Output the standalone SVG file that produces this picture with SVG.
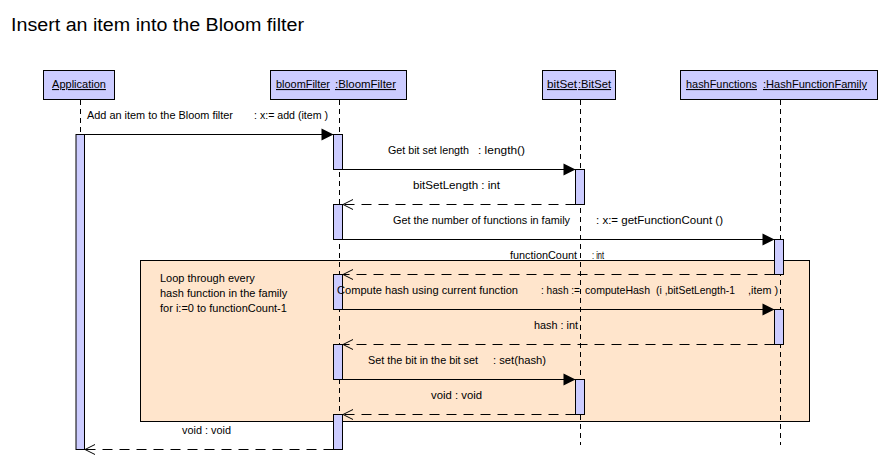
<svg xmlns="http://www.w3.org/2000/svg" width="890" height="460" viewBox="0 0 890 460">
<style>
text{font-family:"Liberation Sans",Arial,sans-serif;font-size:11px;fill:#000}
.title{font-size:18px}
.u{text-decoration:underline}
.box{fill:#CCCCFF;stroke:#000;stroke-width:1}
.life{stroke:#000;stroke-width:1;stroke-dasharray:5 4;fill:none}
.bar{fill:#CCCCFF;stroke:#000;stroke-width:1}
.call{stroke:#000;stroke-width:1;fill:none;marker-end:url(#filled)}
.ret{stroke:#000;stroke-width:1;fill:none;stroke-dasharray:10 7;marker-end:url(#open)}
.frame{fill:#FFE5CC;stroke:#000;stroke-width:1}
</style>
<defs>
<marker id="filled" markerUnits="userSpaceOnUse" markerWidth="12" markerHeight="12" refX="12" refY="6" orient="auto" overflow="visible">
<path d="M0,0 L12,6 L0,12 z" fill="#000" stroke="none"/>
</marker>
<marker id="open" markerUnits="userSpaceOnUse" markerWidth="10" markerHeight="10" refX="10" refY="5" orient="auto" overflow="visible">
<path d="M0,0 L10,5 L0,10" fill="none" stroke="#000" stroke-width="1"/>
</marker>
</defs>
<rect width="890" height="460" fill="#fff"/>
<text class="title" x="11" y="31" textLength="293" lengthAdjust="spacingAndGlyphs">Insert an item into the Bloom filter</text>

<g id="loop">
<rect class="frame" x="140.5" y="260.5" width="669" height="161"/>
<text x="160" y="282">Loop through every</text>
<text x="160" y="297">hash function in the family</text>
<text x="160" y="312">for i:=0 to functionCount-1</text>
</g>

<g id="application">
<rect class="box" x="43.5" y="70.5" width="71" height="29"/>
<text class="u" x="79" y="88" text-anchor="middle">Application</text>
<line class="life" x1="80.5" y1="100" x2="80.5" y2="445"/>
<rect class="bar" x="76" y="134.5" width="8.5" height="315"/>
</g>

<g id="bloomFilter">
<rect class="box" x="270.5" y="70.5" width="136" height="29"/>
<text class="u" x="276" y="88" textLength="54" lengthAdjust="spacingAndGlyphs">bloomFilter</text>
<text class="u" x="335" y="88" textLength="61" lengthAdjust="spacingAndGlyphs">:BloomFilter</text>
<line class="life" x1="339.5" y1="100" x2="339.5" y2="445"/>
<rect class="bar" x="333.5" y="134.5" width="9" height="35"/>
<rect class="bar" x="333.5" y="204.5" width="9" height="35"/>
<rect class="bar" x="333.5" y="274.5" width="9" height="35"/>
<rect class="bar" x="333.5" y="344.5" width="9" height="35"/>
<rect class="bar" x="333.5" y="414.5" width="9" height="35"/>
</g>

<g id="bitSet">
<rect class="box" x="542.5" y="70.5" width="73" height="29"/>
<text class="u" x="547" y="88" textLength="30" lengthAdjust="spacingAndGlyphs">bitSet</text>
<text class="u" x="578" y="88" textLength="33" lengthAdjust="spacingAndGlyphs">:BitSet</text>
<line class="life" x1="580.5" y1="100" x2="580.5" y2="445"/>
<rect class="bar" x="575.5" y="169.5" width="9" height="35"/>
<rect class="bar" x="575.5" y="379.5" width="9" height="35"/>
</g>

<g id="hashFunctions">
<rect class="box" x="680.5" y="70.5" width="197" height="29"/>
<text class="u" x="686" y="88" textLength="71" lengthAdjust="spacingAndGlyphs">hashFunctions</text>
<text class="u" x="763" y="88" textLength="104" lengthAdjust="spacingAndGlyphs">:HashFunctionFamily</text>
<line class="life" x1="780.5" y1="100" x2="780.5" y2="445"/>
<rect class="bar" x="774.5" y="239.5" width="9" height="35"/>
<rect class="bar" x="774.5" y="309.5" width="9" height="35"/>
</g>

<g id="connectors">
<line class="call" x1="84.5" y1="134.5" x2="333.5" y2="134.5"/>
<text x="87" y="119" textLength="146" lengthAdjust="spacingAndGlyphs">Add an item to the Bloom filter</text>
<text x="254" y="119" textLength="74" lengthAdjust="spacingAndGlyphs">: x:= add (item )</text>

<line class="call" x1="342.5" y1="169.5" x2="575.5" y2="169.5"/>
<text x="388" y="154" textLength="81" lengthAdjust="spacingAndGlyphs">Get bit set length</text>
<text x="478" y="154" textLength="47" lengthAdjust="spacingAndGlyphs">: length()</text>

<line class="ret" x1="575.5" y1="204.5" x2="343" y2="204.5"/>
<text x="413" y="189" textLength="87" lengthAdjust="spacingAndGlyphs">bitSetLength  : int</text>

<line class="call" x1="342.5" y1="239.5" x2="774.5" y2="239.5"/>
<text x="393" y="224" textLength="177" lengthAdjust="spacingAndGlyphs">Get the number of functions in family</text>
<text x="596" y="224" textLength="127" lengthAdjust="spacingAndGlyphs">: x:= getFunctionCount ()</text>

<line class="ret" x1="774.5" y1="274.5" x2="343" y2="274.5"/>
<text x="510" y="259" textLength="67" lengthAdjust="spacingAndGlyphs">functionCount</text>
<text x="592" y="259" textLength="12" lengthAdjust="spacingAndGlyphs">: int</text>

<line class="call" x1="342.5" y1="309.5" x2="774.5" y2="309.5"/>
<text x="337" y="294" textLength="181" lengthAdjust="spacingAndGlyphs">Compute hash using current function</text>
<text x="541" y="294" textLength="39" lengthAdjust="spacingAndGlyphs">: hash :=</text>
<text x="585" y="294" textLength="65" lengthAdjust="spacingAndGlyphs">computeHash</text>
<text x="656" y="294" textLength="79" lengthAdjust="spacingAndGlyphs">(i ,bitSetLength-1</text>
<text x="748" y="294" textLength="30" lengthAdjust="spacingAndGlyphs">,item )</text>

<line class="ret" x1="774.5" y1="344.5" x2="343" y2="344.5"/>
<text x="534" y="329" textLength="44" lengthAdjust="spacingAndGlyphs">hash : int</text>

<line class="call" x1="342.5" y1="379.5" x2="575.5" y2="379.5"/>
<text x="368" y="364" textLength="110" lengthAdjust="spacingAndGlyphs">Set the bit in the bit set</text>
<text x="493" y="364" textLength="53" lengthAdjust="spacingAndGlyphs">: set(hash)</text>

<line class="ret" x1="575.5" y1="414.5" x2="343" y2="414.5"/>
<text x="431" y="399" textLength="51" lengthAdjust="spacingAndGlyphs">void : void</text>

<line class="ret" x1="333.5" y1="449.5" x2="85" y2="449.5"/>
<text x="182" y="434" textLength="49" lengthAdjust="spacingAndGlyphs">void : void</text>
</g>
</svg>
